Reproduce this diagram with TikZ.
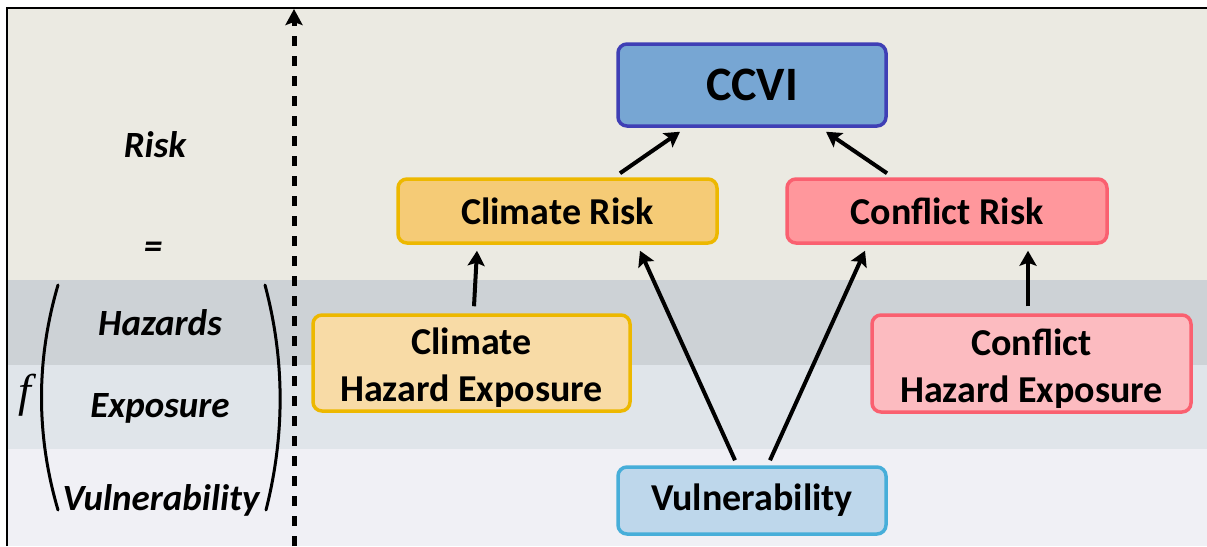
\documentclass[tikz,border=0pt]{standalone}
\usepackage{fontspec}
\setmainfont{Carlito}
\newfontfamily\fserif{Liberation Serif}
\usetikzlibrary{arrows.meta,calc}
\definecolor{bandA}{HTML}{EBEAE2}
\definecolor{bandB}{HTML}{CDD2D6}
\definecolor{bandC}{HTML}{E0E5EA}
\definecolor{bandD}{HTML}{F0F0F5}
\definecolor{ccviF}{HTML}{77A6D3}
\definecolor{ccviD}{HTML}{3F3FB5}
\definecolor{climF}{HTML}{F5CB76}
\definecolor{climD}{HTML}{EDB800}
\definecolor{confF}{HTML}{FF979C}
\definecolor{confD}{HTML}{FA6070}
\definecolor{climHF}{HTML}{F8DBA6}
\definecolor{confHF}{HTML}{FCBBC0}
\definecolor{vulnF}{HTML}{BED7EB}
\definecolor{vulnD}{HTML}{47AED9}
\tikzset{
  box/.style={rectangle, rounded corners=9pt, line width=3.5pt, inner sep=0pt, align=center, font=\bfseries\fontsize{38}{47}\selectfont},
  arr/.style={line width=4pt, -{Stealth[length=15pt,width=17pt,inset=3pt]}},
  lbl/.style={font=\bfseries\itshape\fontsize{37}{40}\selectfont, inner sep=0pt},
  paren/.style={line width=3pt, line cap=round}
}
\begin{document}
\begin{tikzpicture}[x=1pt,y=-1pt]
\useasboundingbox (0,0) rectangle (1207,546);
% bands
\fill[bandA] (7,7) rectangle (1207,280);
\fill[bandB] (7,280) rectangle (1207,365);
\fill[bandC] (7,365) rectangle (1207,449);
\fill[bandD] (7,449) rectangle (1207,546);
\draw[line width=2.2pt] (7,546) -- (7,8) -- (1207,8);
% left formula
\node[lbl] (risk) at (155,145) {Risk};
\node[lbl] (eq) at (153,250) {=};
\node[lbl] (haz) at (160,323) {Hazards};
\node[lbl] (exp) at (160,408) {Exposure};
\node[lbl] (vul) at (161,500) {Vulnerability};
\node[inner sep=0pt, font=\fserif\itshape\fontsize{46}{48}\selectfont] (f) at (25,395) {f};
\draw[paren] (58,285) .. controls (36,360) and (36,435) .. (58,510);
\draw[paren] (265,285) .. controls (285,360) and (285,435) .. (266,510);
% dashed axis
\coordinate (axb) at (294,546);
\coordinate (axt) at (294,9);
\draw[line width=5pt, dash pattern=on 10pt off 10pt, -{Stealth[length=16pt,width=17pt,inset=3pt]}] (axb) -- (axt);
% boxes
\node[box, fill=ccviF, draw=ccviD, minimum width=268pt, minimum height=82pt, font=\bfseries\fontsize{48}{50}\selectfont] (ccvi) at (752,85) {CCVI};
\node[box, fill=climF, draw=climD, minimum width=319pt, minimum height=64pt] (climrisk) at (557.5,211) {Climate Risk};
\node[box, fill=confF, draw=confD, minimum width=320pt, minimum height=64pt] (confrisk) at (947,211) {Conflict Risk};
\node[box, fill=climHF, draw=climD, minimum width=317pt, minimum height=96pt] (climhe) at (471.5,363) {\rule{0pt}{36pt}Climate\\Hazard Exposure};
\node[box, fill=confHF, draw=confD, minimum width=319pt, minimum height=97pt] (confhe) at (1031.5,363.5) {\rule{0pt}{36pt}Conflict\\Hazard Exposure};
\node[box, fill=vulnF, draw=vulnD, minimum width=268pt, minimum height=67pt] (vuln) at (752,500.5) {Vulnerability};
% arrows
\draw[arr] ($(climrisk.north)+(62.5,-4)$) -- ($(ccvi.south)+(-72,4)$);
\draw[arr] ($(confrisk.north)+(-60,-4)$) -- ($(ccvi.south)+(74,4)$);
\draw[arr] ($(climhe.north)+(2.5,-7)$) -- ($(climrisk.south)+(-80.5,6)$);
\draw[arr] ($(vuln.north)+(-17,-5)$) -- ($(climrisk.south)+(82.5,6)$);
\draw[arr] ($(vuln.north)+(18,-5)$) -- ($(confrisk.south)+(-82,6)$);
\draw[arr] ($(confhe.north)+(-3.5,-7)$) -- ($(confrisk.south)+(81,6)$);
\end{tikzpicture}
\end{document}
